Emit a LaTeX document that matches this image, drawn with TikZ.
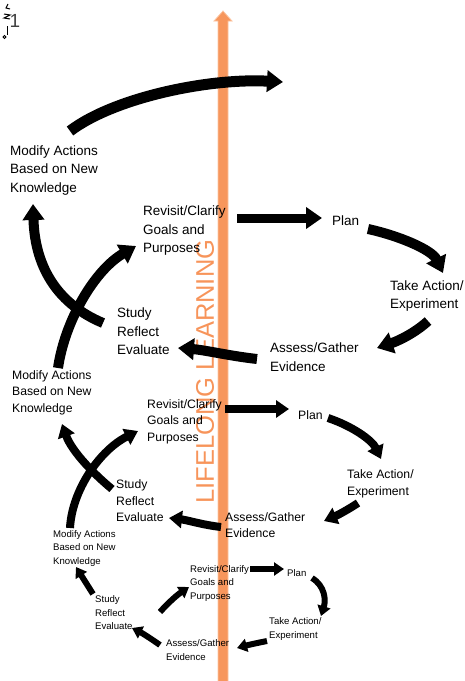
\documentclass[tikz,border=0pt]{standalone}
\usepackage{fontspec}
\setmainfont{Liberation Sans}
\usetikzlibrary{arrows.meta}
\definecolor{orng}{HTML}{F7965C}
\definecolor{orngedge}{HTML}{FBC4A0}
\definecolor{orngtxt}{HTML}{F7945A}
\tikzset{
 lbl/.style={anchor=west, inner sep=0pt, align=left, text=black},
 lblA/.style={lbl, font=\fontsize{13.5}{18.5}\selectfont},
 lblB/.style={lbl, font=\fontsize{12.2}{16.5}\selectfont},
 lblC/.style={lbl, font=\fontsize{9.6}{13.5}\selectfont},
 arA/.style={line width=10pt, -{Triangle[length=16pt,width=21pt]}},
 arB/.style={line width=8pt, -{Triangle[length=13pt,width=17pt]}},
 arC/.style={line width=6pt, -{Triangle[length=10pt,width=13pt]}},
}
\begin{document}
\begin{tikzpicture}[x=1pt,y=-1pt]
\useasboundingbox (0,0) rectangle (464,681);
% lifelong learning axis
\fill[orng] (218,681) -- (218,21) -- (214,21) -- (223,11) -- (232,21) -- (228,21) -- (228,681) -- cycle;
\draw[orngedge, line width=0.8pt] (218,681) -- (218,21) -- (214,21) -- (223,11) -- (232,21) -- (228,21) -- (228,681);
\node[rotate=90, text=orngtxt, inner sep=0pt, font=\fontsize{25.5}{26}\selectfont] (ll) at (205,371.5) {LIFELONG LEARNING};
% corner marks
\node[inner sep=0pt, text=black!75, font=\fontsize{19}{19}\selectfont] (fig) at (15,21) {1};
\draw[line width=1pt] (8,4) -- (6,8) -- (10,9);
\draw[line width=1pt] (4,14) -- (10,15) -- (4,18) -- (10,19);
\draw[line width=1pt] (7,26) -- (7,35);
\draw[line width=0.8pt] (4.5,37) circle (1.5);
% top loop labels
\node[lblA] (mod1) at (10,170.5) {Modify Actions\\Based on New\\Knowledge};
\node[lblA] (rev1) at (143,231) {Revisit/Clarify\\Goals and\\Purposes};
\node[lblA] (plan1) at (332,221) {Plan};
\node[lblA] (take1) at (390,296) {Take Action/\\Experiment};
\node[lblA] (ass1) at (270,357) {Assess/Gather\\Evidence};
\node[lblA] (stu1) at (117,331.5) {Study\\Reflect\\Evaluate};
% middle loop labels
\node[lblB] (mod2) at (12,392.5) {Modify Actions\\Based on New\\Knowledge};
\node[lblB] (rev2) at (147,421.5) {Revisit/Clarify\\Goals and\\Purposes};
\node[lblB] (plan2) at (298,415) {Plan};
\node[lblB] (take2) at (347,484) {Take Action/\\Experiment};
\node[lblB] (ass2) at (225,525) {Assess/Gather\\Evidence};
\node[lblB] (stu2) at (116,501) {Study\\Reflect\\Evaluate};
% bottom loop labels
\node[lblC] (mod3) at (53,548.5) {Modify Actions\\Based on New\\Knowledge};
\node[lblC] (rev3) at (190,583.5) {Revisit/Clarify\\Goals and\\Purposes};
\node[lblC] (plan3) at (287,573) {Plan};
\node[lblC] (take3) at (269,629) {Take Action/\\Experiment};
\node[lblC] (ass3) at (166,650) {Assess/Gather\\Evidence};
\node[lblC] (stu3) at (95,613) {Study\\Reflect\\Evaluate};
% arrow end points
\coordinate (t0s) at (70,131);  \coordinate (t0e) at (283,82);
\coordinate (t1s) at (237,218); \coordinate (t1e) at (322,218);
\coordinate (t2s) at (368,229); \coordinate (t2e) at (443,273);
\coordinate (t3s) at (428,321); \coordinate (t3e) at (377,348);
\coordinate (t4s) at (257,359); \coordinate (t4e) at (178,348);
\coordinate (t5s) at (103,323); \coordinate (t5e) at (33,204);
\coordinate (t6s) at (58,368);  \coordinate (t6e) at (136,246);
\coordinate (m1s) at (225,409); \coordinate (m1e) at (289,409);
\coordinate (m2s) at (328,418); \coordinate (m2e) at (381,459);
\coordinate (m3s) at (358,503); \coordinate (m3e) at (324,521);
\coordinate (m4s) at (221,527); \coordinate (m4e) at (169,518);
\coordinate (m5s) at (112,489); \coordinate (m5e) at (62,424);
\coordinate (m6s) at (70,528);  \coordinate (m6e) at (138,431);
\coordinate (b1s) at (250,569); \coordinate (b1e) at (284,569);
\coordinate (b2s) at (312,578); \coordinate (b2e) at (321,616);
\coordinate (b3s) at (267,641); \coordinate (b3e) at (237,648);
\coordinate (b4s) at (160,645); \coordinate (b4e) at (132,628);
\coordinate (b5s) at (93,594);  \coordinate (b5e) at (76,567);
\coordinate (b6s) at (160,612); \coordinate (b6e) at (189,587);
% top loop arrows
\draw[arA, line width=11pt] (t0s) .. controls (115,97) and (210,78) .. (t0e);
\draw[arA, line width=9pt] (t1s) -- (t1e);
\draw[arA] (t2s) .. controls (400,236) and (432,250) .. (t2e);
\draw[arA] (t3s) .. controls (415,333) and (398,341) .. (t3e);
\draw[arA] (t4s) .. controls (230,356) and (205,350) .. (t4e);
\draw[arA] (t5s) .. controls (60,305) and (35,270) .. (t5e);
\draw[arA] (t6s) .. controls (65,320) and (95,270) .. (t6e);
% middle loop arrows
\draw[arB] (m1s) -- (m1e);
\draw[arB] (m2s) .. controls (352,426) and (372,440) .. (m2e);
\draw[arB] (m3s) .. controls (349,509) and (338,515) .. (m3e);
\draw[arB] (m4s) .. controls (203,525) and (187,520) .. (m4e);
\draw[arB] (m5s) .. controls (95,475) and (72,452) .. (m5e);
\draw[arB] (m6s) .. controls (72,490) and (100,450) .. (m6e);
% bottom loop arrows
\draw[arC] (b1s) -- (b1e);
\draw[arC] (b2s) .. controls (325,586) and (326,600) .. (b2e);
\draw[arC] (b3s) .. controls (257,643) and (248,645) .. (b3e);
\draw[arC] (b4s) .. controls (150,638) and (142,633) .. (b4e);
\draw[arC] (b5s) -- (b5e);
\draw[arC] (b6s) .. controls (168,603) and (177,595) .. (b6e);
\end{tikzpicture}
\end{document}
